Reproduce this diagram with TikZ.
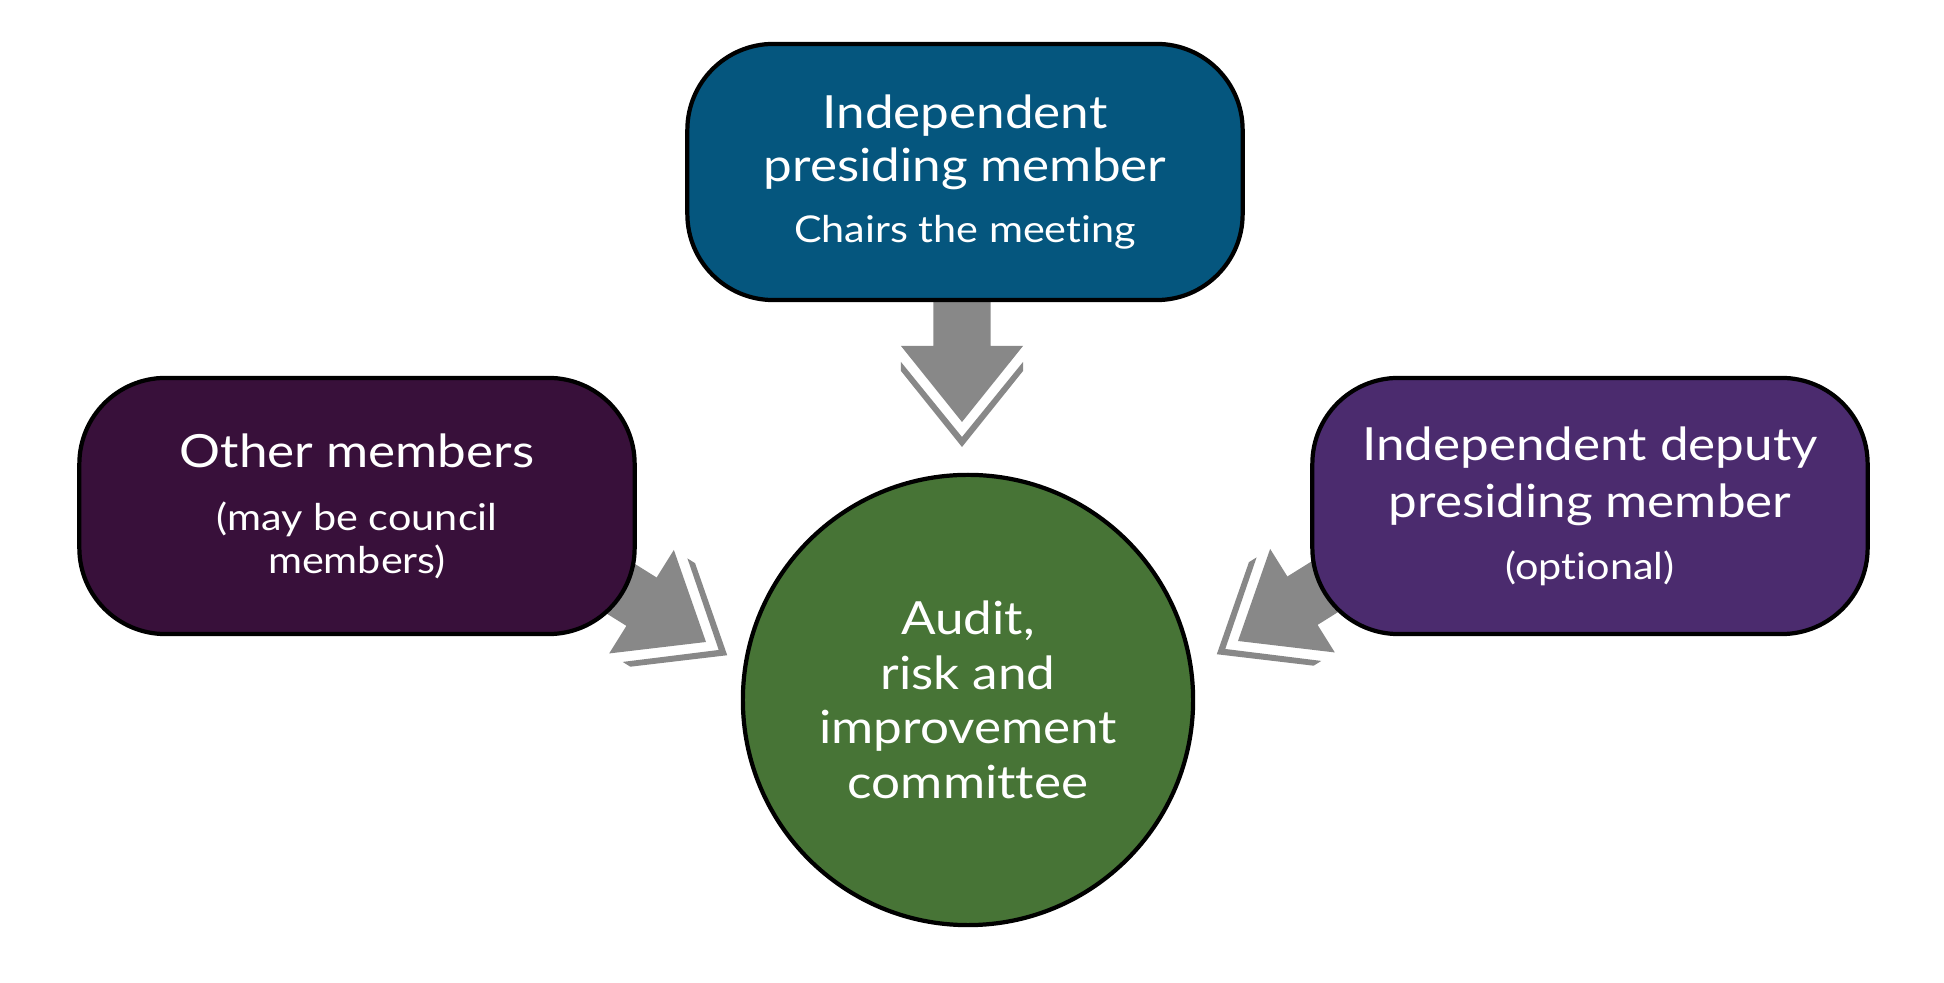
\documentclass[tikz,border=0pt]{standalone}
\usepackage{fontspec}
\setmainfont{Lato}[FakeStretch=1.12, Ligatures=NoCommon]
\usepackage{tikz}
\usetikzlibrary{calc,positioning}
\definecolor{ipmblue}{HTML}{05567E}
\definecolor{othplum}{HTML}{38103A}
\definecolor{depviolet}{HTML}{4B2B6E}
\definecolor{arcgreen}{HTML}{477436}
\definecolor{arrgrey}{HTML}{888888}
\newcommand{\subtxt}{\fontsize{10.5}{12.2}\selectfont}
\newcommand{\maintxt}{\fontsize{13}{15.2}\selectfont}
\tikzset{
  member/.style={draw=black, line width=1.2pt, rounded corners=0.86cm, minimum width=5.55cm, minimum height=2.56cm, inner sep=0pt, text=white, align=center, font=\maintxt},
  committee/.style={circle, draw=black, line width=1.2pt, fill=arcgreen, minimum size=4.5cm, inner sep=0pt, text=white, align=center, font=\fontsize{13}{15.5}\selectfont},
  arrfill/.style={fill=arrgrey, draw=none},
  pics/feed/.style={code={
    \fill[arrfill] (0,0) -- (-0.76cm,0.61cm) -- (-0.76cm,0.285cm) -- (-#1,0.285cm) -- (-#1,-0.285cm) -- (-0.76cm,-0.285cm) -- (-0.76cm,-0.61cm) -- cycle;
    \fill[arrfill] (-0.60cm,0.61cm) -- (0.15cm,0) -- (-0.60cm,-0.61cm) -- (-0.51cm,-0.61cm) -- (0.25cm,0) -- (-0.51cm,0.61cm) -- cycle;
  }},
}
\begin{document}
\begin{tikzpicture}[x=0.01cm, y=-0.01cm]
  \useasboundingbox (0,0) rectangle (1944,983);

  % arrows first, the boxes hide the shaft ends
  \pic[rotate=-90]  at (962,422)  {feed=1.4cm};
  \pic[rotate=-32]  at (706,642)  {feed=1.5cm};
  \pic[rotate=-148] at (1238,641) {feed=1.5cm};

  \node[member, fill=ipmblue] (ipm) at (965,172) {Independent\\presiding member\\[2.2pt]{\subtxt Chairs the meeting}};
  \node[member, fill=othplum, font=\subtxt] (oth) at (357,506) {{\maintxt Other members}\\[5.7pt](may be council\\members)};
  \node[member, fill=depviolet] (dep) at (1590,506) {Independent deputy\\[1pt]presiding member\\[2.4pt]{\subtxt (optional)}};
  \node[committee] (arc) at (968,700) {Audit,\\risk and\\improvement\\committee};
\end{tikzpicture}
\end{document}
